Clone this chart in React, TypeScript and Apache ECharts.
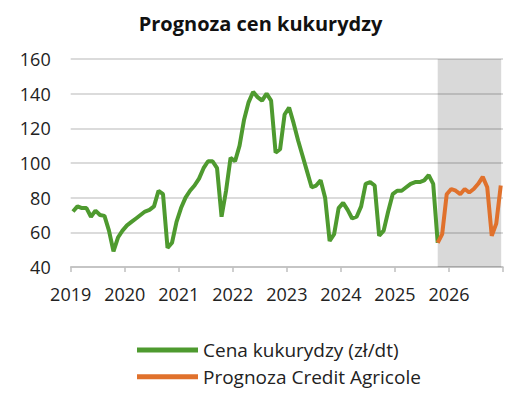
import React, { useEffect, useRef } from "react";
import * as echarts from "echarts";

const titleText = "Prognoza cen kukurydzy";
const yearLabels = ["2019", "2020", "2021", "2022", "2023", "2024", "2025", "2026"];
const seriesNames = ["Cena kukurydzy (zł/dt)", "Prognoza Credit Agricole"];

// monthly values, Jan 2019 .. Oct 2025
const priceData = [
  72, 75, 74, 74, 69, 72.5, 70, 69.5, 61, 49,
  57, 61, 64, 66, 68, 70, 72, 73, 75, 84,
  82, 51, 54, 66, 74, 80, 84, 87, 91, 97,
  101, 101, 97, 69, 84, 103, 101, 110, 125, 135,
  141, 138, 136, 140, 136, 106, 108, 128, 132, 123,
  113, 104, 95, 86, 87, 90, 80, 55, 59, 74,
  77, 73, 68, 69, 75, 88, 89, 87, 58, 61,
  72, 82, 84, 84, 86, 88, 89, 89, 90, 93,
  88, 54,
];
// forecast Oct 2025 .. Dec 2026
const forecastStart = 81;
const forecastData = [54, 59, 82, 85, 84, 82, 85, 83, 85, 88, 92, 86, 58, 65, 87];
const forecastArea = [81.5, 95.6];

export default function App() {
  const ref = useRef<HTMLDivElement>(null);
  useEffect(() => {
    if (!ref.current) return;
    const chart = echarts.init(ref.current, null, { renderer: "svg" });
    const font = "'Open Sans', 'Liberation Sans', sans-serif";
    chart.setOption({
      animation: false,
      backgroundColor: "#ffffff",
      title: {
        text: titleText,
        left: "center",
        top: 10,
        padding: 0,
        textStyle: { fontFamily: font, fontSize: 20, fontWeight: "bold", color: "#111", lineHeight: 26 },
      },
      grid: { left: 70.7, right: 18, top: 59, bottom: 126, containLabel: false },
      legend: {
        orient: "vertical",
        left: 137,
        top: 340,
        padding: 0,
        itemWidth: 61,
        itemHeight: 5,
        itemGap: 6.7,
        icon: "rect",
        data: seriesNames,
        textStyle: { fontFamily: font, fontSize: 19, color: "#222", lineHeight: 20 },
      },
      xAxis: {
        type: "value",
        min: 0,
        max: 96,
        interval: 12,
        axisLine: { show: true, lineStyle: { color: "#bfbfbf", width: 1.5 } },
        axisTick: { show: true, length: 5, lineStyle: { color: "#bfbfbf", width: 1.5 } },
        splitLine: { show: false },
        axisLabel: {
          margin: 18,
          fontFamily: font,
          fontSize: 18,
          color: "#222",
          formatter: (v: number) => yearLabels[Math.round(v / 12)] ?? "",
        },
      },
      yAxis: {
        type: "value",
        min: 40,
        max: 160,
        interval: 20,
        axisLine: { show: false },
        axisTick: { show: false },
        splitLine: { show: true, lineStyle: { color: "#cfcfcf", width: 1.5 } },
        axisLabel: { margin: 20, fontFamily: font, fontSize: 18, color: "#222" },
      },
      series: [
        {
          name: seriesNames[0],
          type: "line",
          showSymbol: false,
          symbol: "none",
          color: "#4e9a2f",
          lineStyle: { width: 4, color: "#4e9a2f" },
          data: priceData.map((v, i) => [i + 0.5, v]),
          z: 3,
        },
        {
          name: seriesNames[1],
          type: "line",
          showSymbol: false,
          symbol: "none",
          color: "#e0712c",
          lineStyle: { width: 4, color: "#e0712c" },
          data: forecastData.map((v, i) => [forecastStart + i + 0.5, v]),
          z: 4,
          markArea: {
            silent: true,
            itemStyle: { color: "rgba(0,0,0,0.15)" },
            data: [[{ xAxis: forecastArea[0] }, { xAxis: forecastArea[1] }]],
          },
        },
      ],
    });
    return () => chart.dispose();
  }, []);
  return (
    <div
      ref={ref}
      style={{ position: "fixed", left: 0, top: 0, width: 521, height: 393 }}
    />
  );
}
